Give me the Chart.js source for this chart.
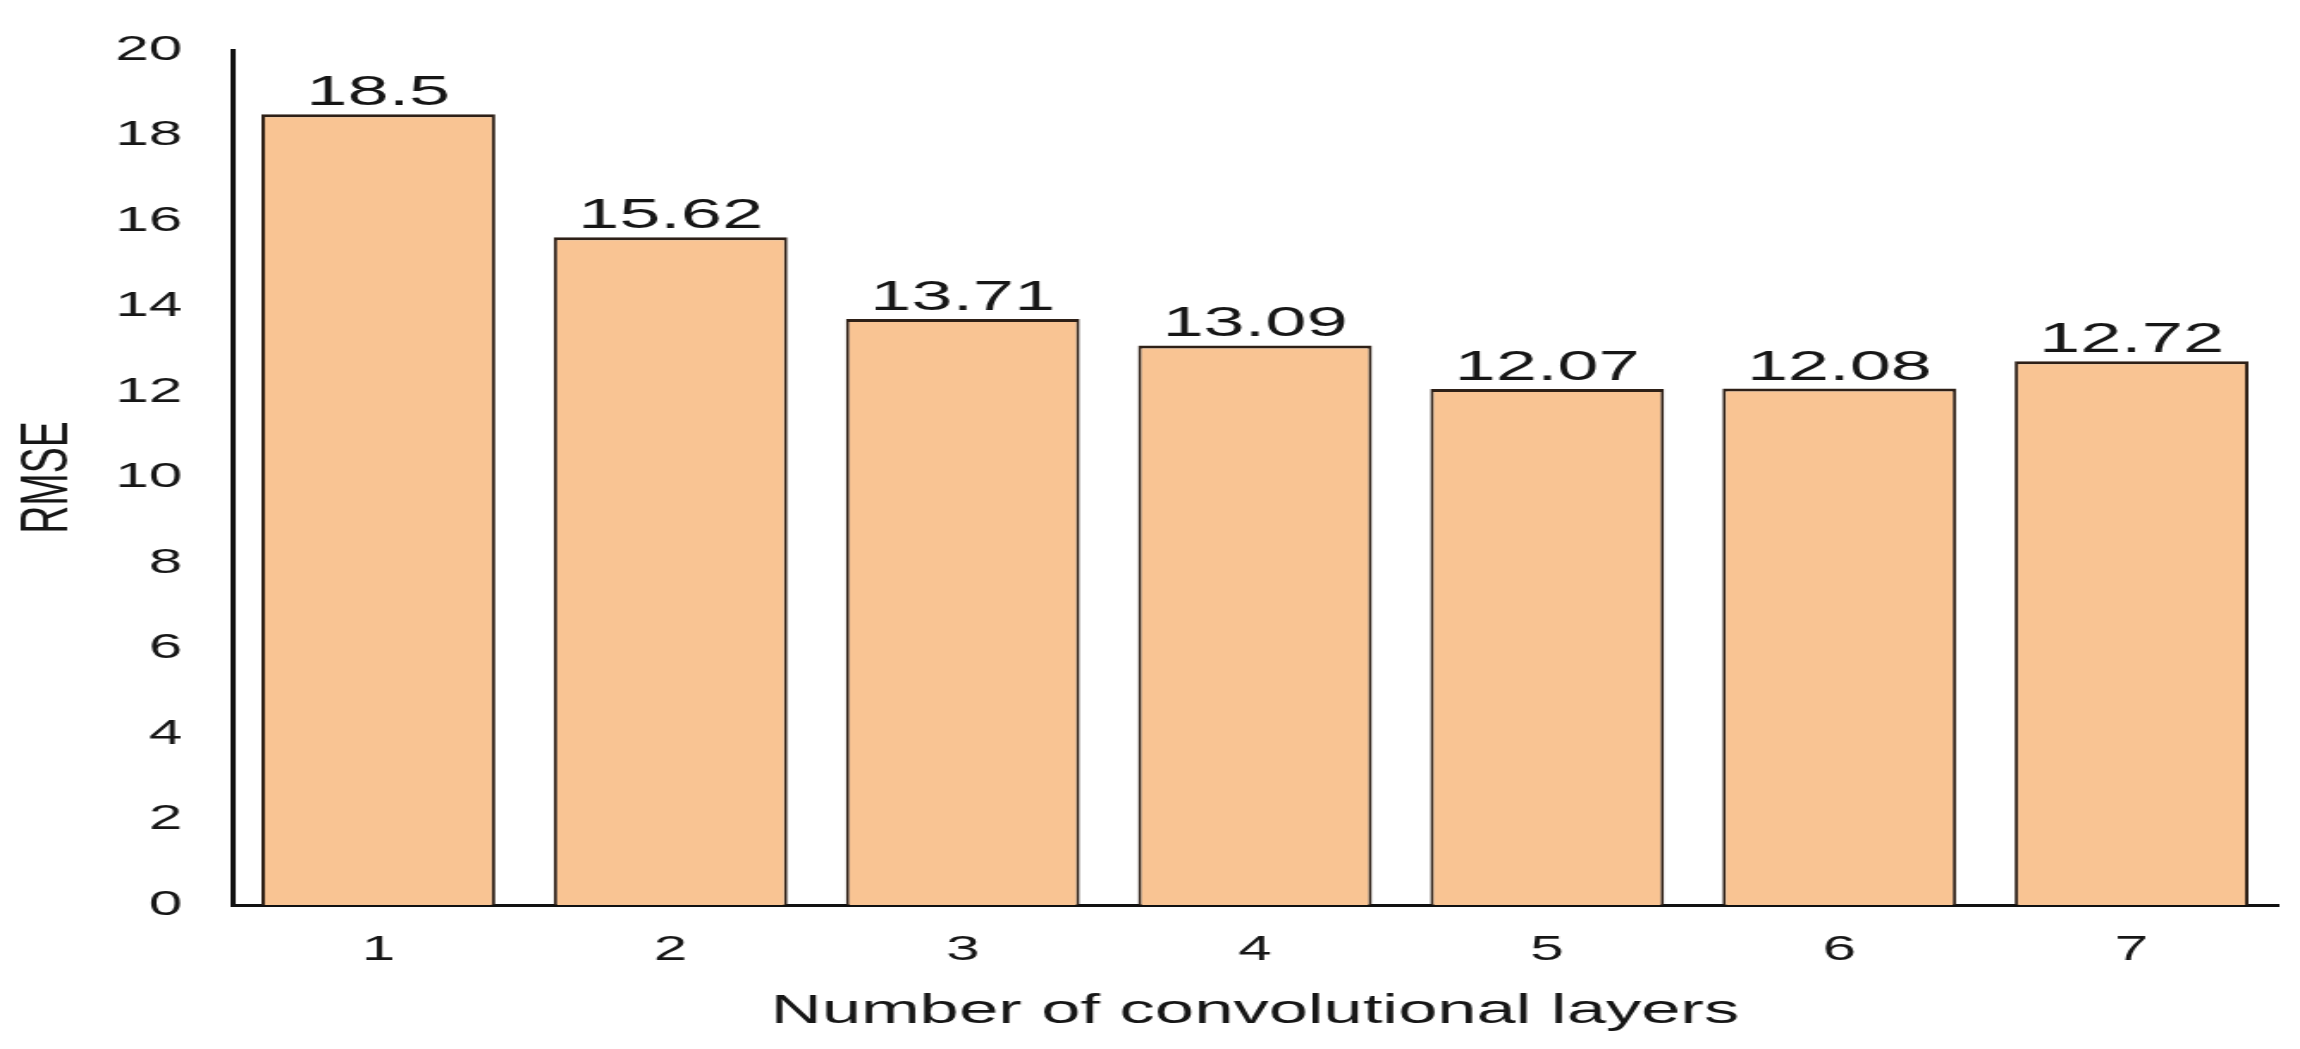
<!DOCTYPE html>
<html>
<head>
<meta charset="utf-8">
<script src="https://cdn.jsdelivr.net/npm/chart.js@4.4.1/dist/chart.umd.min.js"></script>
<style>
  html, body { margin: 0; padding: 0; background: #fff; overflow: hidden; }
  /* the source figure is stretched sideways, so draw narrow and widen it */
  #wrap { width: 1337px; height: 1049px; transform: scaleX(1.7203); transform-origin: 0 0; }
</style>
</head>
<body>
<div id="wrap"><canvas id="rmseChart" width="1337" height="1049"></canvas></div>
<script>
const layers = ["1", "2", "3", "4", "5", "6", "7"];
const rmse = [18.5, 15.62, 13.71, 13.09, 12.07, 12.08, 12.72];
const yTicks = [0, 2, 4, 6, 8, 10, 12, 14, 16, 18, 20];

const FONT = "'Liberation Sans', Arial, Helvetica, sans-serif";
const INK = "#161616";

// value printed above each bar
const barValues = {
  id: "barValues",
  afterDatasetsDraw(chart) {
    const ctx = chart.ctx;
    ctx.save();
    ctx.font = "43px " + FONT;
    ctx.fillStyle = INK;
    ctx.textAlign = "center";
    ctx.textBaseline = "alphabetic";
    chart.getDatasetMeta(0).data.forEach((bar, i) => {
      ctx.fillText(String(rmse[i]), bar.x, bar.y - 9);
    });
    ctx.restore();
  },
};

new Chart(document.getElementById("rmseChart"), {
  type: "bar",
  data: {
    labels: layers,
    datasets: [
      {
        data: rmse,
        backgroundColor: "#f9c493",
        borderColor: "#2e2017",
        borderWidth: { top: 3, left: 2, right: 2, bottom: 0 },
        borderSkipped: "start",
        barPercentage: 0.8,
        categoryPercentage: 1.0,
      },
    ],
  },
  options: {
    responsive: false,
    animation: false,
    devicePixelRatio: 1,
    layout: { padding: { top: 50, right: 13, left: 0, bottom: 0 } },
    plugins: { legend: { display: false }, tooltip: { enabled: false } },
    scales: {
      x: {
        grid: { display: false, drawTicks: false },
        border: { display: true, color: "#111", width: 3 },
        ticks: { color: INK, font: { family: FONT, size: 35 }, padding: 24 },
        title: {
          display: true,
          text: "Number of convolutional layers",
          color: INK,
          font: { family: FONT, size: 41 },
          padding: { top: 0, bottom: 13 },
        },
        afterFit(scale) { scale.height = 144; },
      },
      y: {
        min: 0,
        max: 20,
        afterBuildTicks(scale) { scale.ticks = yTicks.map((v) => ({ value: v })); },
        grid: { display: false, drawTicks: false },
        border: { display: true, color: "#111", width: 3 },
        ticks: { color: INK, font: { family: FONT, size: 35 }, padding: 29 },
        title: {
          display: true,
          text: "RMSE",
          color: INK,
          font: { family: FONT, size: 39 },
          padding: { top: 5, bottom: 0 },
        },
        afterFit(scale) { scale.width = 135; },
      },
    },
  },
  plugins: [barValues],
});
</script>
</body>
</html>
